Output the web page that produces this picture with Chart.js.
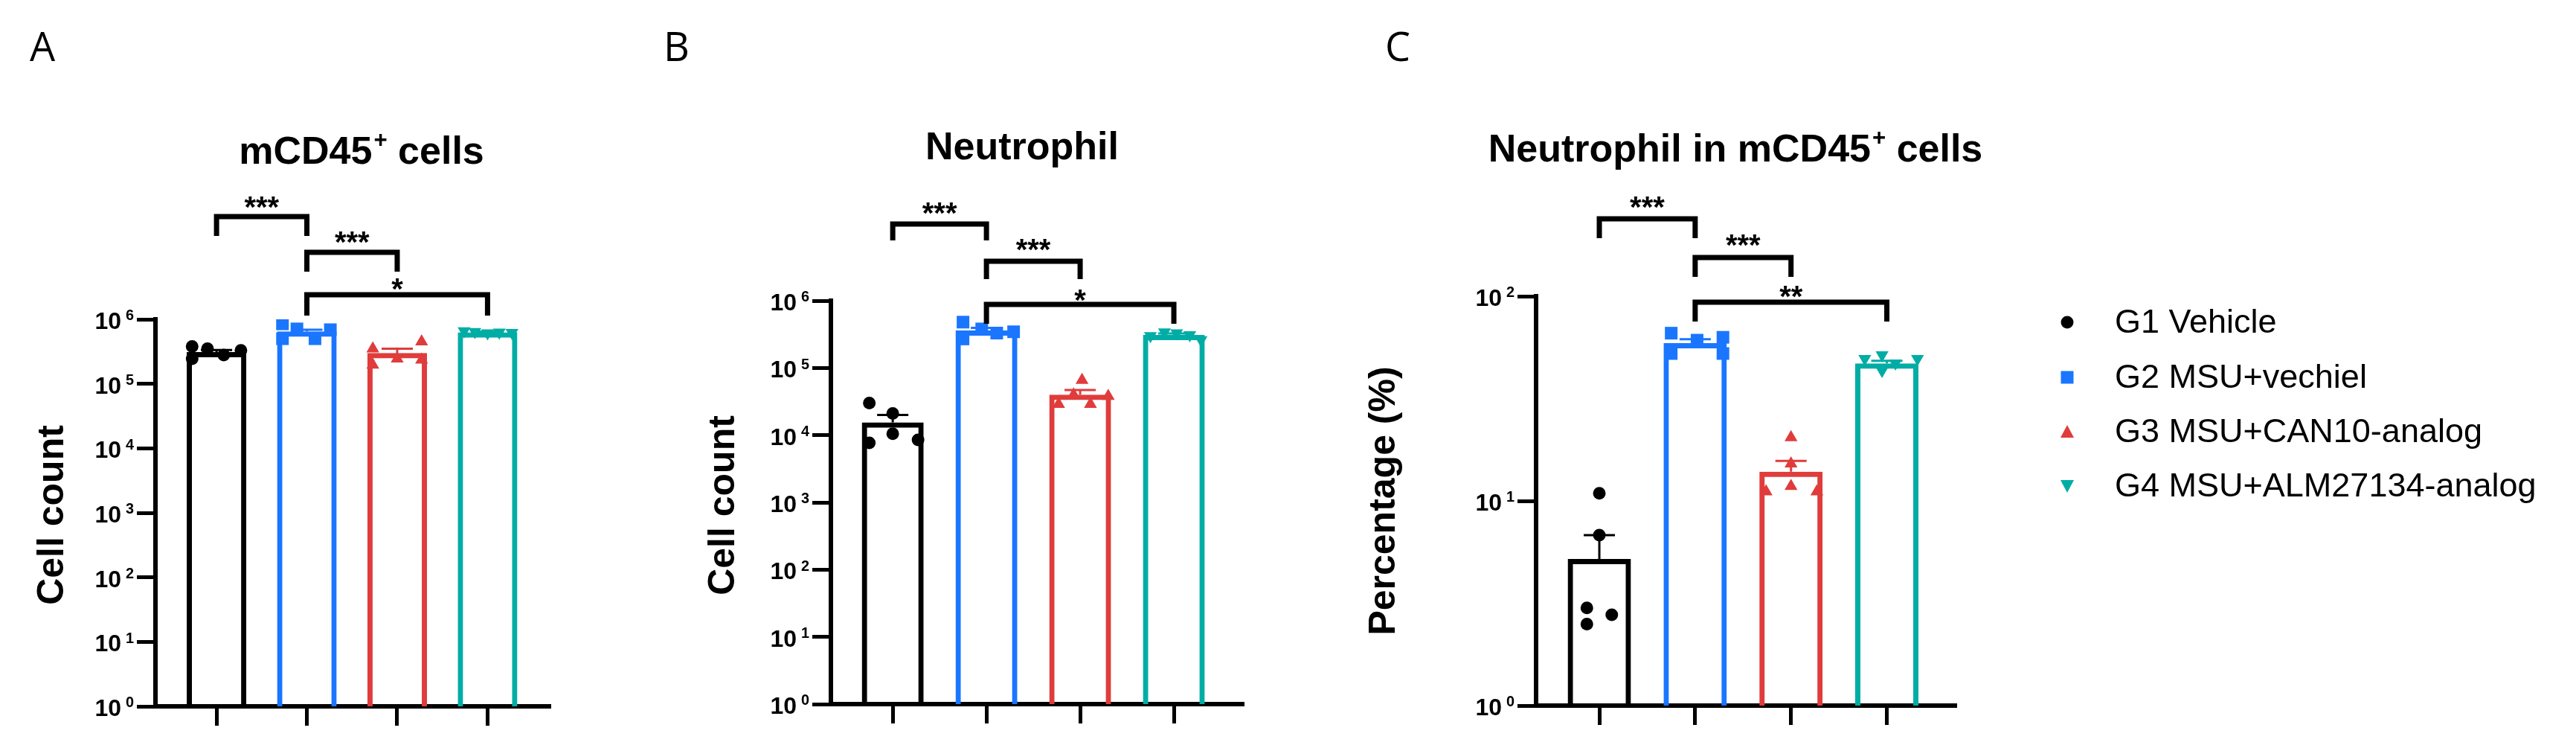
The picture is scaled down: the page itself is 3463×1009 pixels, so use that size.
<!DOCTYPE html>
<html>
<head>
<meta charset="utf-8">
<script src="https://cdn.jsdelivr.net/npm/chart.js@4.4.0/dist/chart.umd.min.js"></script>
<style>
  html, body { margin: 0; background: #fff; }
  #wrap { position: relative; width: 3463px; height: 1009px; }
  #wrap canvas { position: absolute; left: 0; top: 0; }
</style>
</head>
<body>
<div id="wrap">
  <canvas id="panelA" width="3463" height="1009"></canvas>
  <canvas id="panelB" width="3463" height="1009"></canvas>
  <canvas id="panelC" width="3463" height="1009"></canvas>
</div>
<script>
// groups, shared by all three panels
var groupLabels = ['G1 Vehicle', 'G2 MSU+vechiel', 'G3 MSU+CAN10-analog', 'G4 MSU+ALM27134-analog'];

// A - mCD45+ cells (cell count)
var cd45Mean = [3.1e5, 6.5e5, 3.0e5, 6.3e5];
var cd45Sem = [0.25e5, 0.4e5, 0.5e5, 0.15e5];
var cd45Points = [
  [3.8e5, 2.45e5, 3.5e5, 2.8e5, 3.3e5],
  [8.5e5, 5.0e5, 7.1e5, 5.0e5, 6.9e5],
  [3.5e5, 1.96e5, 2.45e5, 4.5e5, 2.35e5],
  [6.6e5, 6.4e5, 6.1e5, 6.3e5, 6.2e5]
];
var cd45Stars = ['***', '***', '*'];

// B - Neutrophil (cell count)
var neuMean = [1.55e4, 3.6e5, 4.0e4, 3.1e5];
var neuSem = [0.45e4, 0.35e5, 0.7e4, 0.15e5];
var neuPoints = [
  [3.0e4, 2.1e4, 7.7e3, 1.05e4, 8.5e3],
  [4.8e5, 2.7e5, 3.8e5, 3.3e5, 3.45e5],
  [2.9e4, 4.0e4, 6.6e4, 2.9e4, 3.8e4],
  [3.0e5, 3.4e5, 3.3e5, 3.1e5, 2.6e5]
];
var neuStars = ['***', '***', '*'];

// C - Neutrophil in mCD45+ cells (%)
var pctMean = [5.2, 59, 13.9, 47];
var pctSem = [1.6, 2.7, 1.8, 1.4];
var pctPoints = [
  [10.9, 6.8, 3.0, 2.78, 2.5],
  [66, 52.5, 61, 63, 52.5],
  [20.4, 15.2, 11.8, 11.1, 11.1],
  [49.5, 51.6, 47.1, 49.5, 43.3]
];
var pctStars = ['***', '***', '**'];

// pairs compared by the brackets
var comparisons = [[0, 1], [1, 2], [1, 3]];

// styling
var groupColors = ['#000000', '#1a76ff', '#e03c3c', '#00ada5'];
var markerStyles = ['circle', 'rect', 'triangle', 'triangle'];
var markerRadius = [8.5, 12, 10, 10];
var markerRotation = [0, 0, 0, 180];
var FONT = '"Liberation Sans", Arial, sans-serif';
var SUP = { '\u207A': '+', '\u2070': '0', '\u00B9': '1', '\u00B2': '2', '\u00B3': '3', '\u2074': '4', '\u2075': '5', '\u2076': '6' };
var supDigits = ['\u2070', '\u00B9', '\u00B2', '\u00B3', '\u2074', '\u2075', '\u2076'];

// horizontal spread of the dots in each column
var jitterA = [[-0.27, -0.27, -0.1, 0.08, 0.27], [-0.27, -0.27, -0.11, 0.09, 0.26], [-0.27, -0.27, 0, 0.27, 0.27], [-0.26, -0.14, 0, 0.13, 0.27]];
var jitterB = [[-0.25, 0, -0.25, 0, 0.27], [-0.25, -0.25, -0.05, 0.11, 0.29], [-0.23, -0.07, 0.02, 0.11, 0.3], [-0.25, -0.1, 0.03, 0.17, 0.29]];
var jitterC = [[0, 0, -0.13, 0.13, -0.13], [-0.25, -0.25, 0.02, 0.29, 0.29], [0, 0, 0, -0.26, 0.27], [-0.23, -0.05, 0.09, 0.32, -0.05]];

// text with superscript characters drawn smaller and raised
function drawRich(ctx, text, x, y, size, weight, align, supScale, supRise, supGap) {
  supScale = supScale || 0.6;
  supRise = supRise || 0.42;
  supGap = supGap || 2;
  var runs = [];
  for (var i = 0; i < text.length; i++) {
    var ch = text[i], sup = SUP[ch] !== undefined;
    var c = sup ? SUP[ch] : ch;
    if (runs.length && runs[runs.length - 1].sup === sup) runs[runs.length - 1].t += c;
    else runs.push({ t: c, sup: sup });
  }
  var total = 0;
  runs.forEach(function (r, k) {
    ctx.font = weight + ' ' + (r.sup ? size * supScale : size) + 'px ' + FONT;
    r.w = ctx.measureText(r.t).width + (!r.sup && k < runs.length - 1 ? supGap : 0);
    total += r.w;
  });
  var cx = align === 'right' ? x - total : x - total / 2;
  ctx.textAlign = 'left';
  ctx.textBaseline = 'alphabetic';
  runs.forEach(function (r) {
    ctx.font = weight + ' ' + (r.sup ? size * supScale : size) + 'px ' + FONT;
    ctx.fillText(r.t, cx, r.sup ? y - size * supRise : y);
    cx += r.w;
  });
}

function legendMarker(ctx, g, x, y) {
  ctx.fillStyle = groupColors[g];
  ctx.beginPath();
  if (g === 0) ctx.arc(x, y, 8.5, 0, Math.PI * 2);
  else if (g === 1) ctx.rect(x - 8.5, y - 8.5, 17, 17);
  else if (g === 2) { ctx.moveTo(x, y - 9); ctx.lineTo(x + 9, y + 8); ctx.lineTo(x - 9, y + 8); }
  else { ctx.moveTo(x, y + 9); ctx.lineTo(x + 9, y - 8); ctx.lineTo(x - 9, y - 8); }
  ctx.closePath();
  ctx.fill();
}

var panelDecor = {
  id: 'panelDecor',
  afterDatasetsDraw: function (chart, args, o) {
    var ctx = chart.ctx, xs = chart.scales.x, ys = chart.scales.y;
    // error bars (mean + SEM)
    o.means.forEach(function (m, g) {
      var px = xs.getPixelForValue(g);
      var y0 = ys.getPixelForValue(m), y1 = ys.getPixelForValue(m + o.sems[g]);
      ctx.save();
      ctx.strokeStyle = groupColors[g];
      ctx.lineWidth = 3;
      ctx.beginPath();
      ctx.moveTo(px, y0); ctx.lineTo(px, y1);
      ctx.moveTo(px - 21, y1); ctx.lineTo(px + 21, y1);
      ctx.stroke();
      ctx.restore();
    });
  },
  afterDraw: function (chart, args, o) {
    var ctx = chart.ctx, xs = chart.scales.x, ys = chart.scales.y;
    ctx.save();
    ctx.fillStyle = '#000';
    // y tick labels 10^n, taken from the scale's ticks
    ys.ticks.forEach(function (t) {
      var py = ys.getPixelForValue(t.value);
      var e = Math.round(Math.log10(t.value));
      drawRich(ctx, '10' + supDigits[e], ys.right - 29, py + 13, 32, 'bold', 'right', 0.62, 0.36, 6);
    });
    // panel letter
    ctx.font = '54px "Open Sans", sans-serif';
    ctx.textAlign = 'left';
    ctx.textBaseline = 'alphabetic';
    ctx.fillText(o.letter.t, o.letter.x, o.letter.y);
    // title
    drawRich(ctx, o.title.t, o.title.x, o.title.y, 52, 'bold', 'center');
    // y axis title
    ctx.save();
    ctx.translate(o.ytitle.x, o.ytitle.y);
    ctx.rotate(-Math.PI / 2);
    ctx.font = 'bold 50px ' + FONT;
    ctx.textAlign = 'center';
    ctx.textBaseline = 'middle';
    ctx.fillText(o.ytitle.t, 0, 0);
    ctx.restore();
    // significance brackets
    ctx.strokeStyle = '#000';
    ctx.lineWidth = 7;
    ctx.lineJoin = 'miter';
    comparisons.forEach(function (pair, k) {
      var b = o.brackets[k];
      var x1 = xs.getPixelForValue(pair[0]), x2 = xs.getPixelForValue(pair[1]);
      ctx.beginPath();
      ctx.moveTo(x1, b.y + b.leg);
      ctx.lineTo(x1, b.y);
      ctx.lineTo(x2, b.y);
      ctx.lineTo(x2, b.y + b.leg);
      ctx.stroke();
      ctx.font = 'bold 40px ' + FONT;
      ctx.textAlign = 'center';
      ctx.textBaseline = 'alphabetic';
      ctx.fillText(o.stars[k], (x1 + x2) / 2, b.star + 22);
    });
    // legend
    if (o.legend) {
      groupLabels.forEach(function (lab, g) {
        var ly = o.legend.rows[g];
        legendMarker(ctx, g, o.legend.x, ly);
        ctx.fillStyle = '#000';
        ctx.font = '45px ' + FONT;
        ctx.textAlign = 'left';
        ctx.textBaseline = 'middle';
        ctx.fillText(lab, o.legend.textX, ly + 2);
      });
    }
    ctx.restore();
  }
};

function makePanel(id, o) {
  var datasets = o.points.map(function (vals, g) {
    return {
      type: 'scatter',
      label: groupLabels[g],
      order: 1,
      data: vals.map(function (v, k) { return { x: g + o.jitter[g][k], y: v }; }),
      pointStyle: markerStyles[g],
      pointRadius: markerRadius[g],
      pointHoverRadius: markerRadius[g],
      pointRotation: markerRotation[g],
      pointBackgroundColor: groupColors[g],
      pointBorderColor: groupColors[g],
      pointBorderWidth: 0
    };
  });
  datasets.push({
    type: 'bar',
    order: 2,
    data: o.means.map(function (m, g) { return { x: g, y: m }; }),
    backgroundColor: 'rgba(255,255,255,0)',
    borderColor: groupColors,
    borderWidth: 7,
    borderSkipped: 'start',
    barPercentage: 0.66,
    categoryPercentage: 1
  });

  var axisGrid = function (len) {
    return { display: true, offset: false, drawOnChartArea: false, drawTicks: true, tickLength: len, tickWidth: 5, tickColor: '#000', color: '#000', lineWidth: 5 };
  };

  new Chart(document.getElementById(id), {
    type: 'bar',
    data: { datasets: datasets },
    options: {
      responsive: false,
      animation: false,
      devicePixelRatio: 1,
      layout: { padding: { left: o.area.left - 100, right: 3463 - o.area.right, top: o.area.top, bottom: 1009 - o.area.bottom - 40 } },
      plugins: {
        legend: { display: false },
        title: { display: false },
        tooltip: { enabled: false },
        panelDecor: o.decor
      },
      scales: {
        x: {
          type: 'linear',
          offset: false,
          min: o.area.xmin,
          max: o.area.xmax,
          afterBuildTicks: function (s) { s.ticks = [0, 1, 2, 3].map(function (v) { return { value: v }; }); },
          afterFit: function (s) { s.height = 40; },
          ticks: { display: false },
          grid: axisGrid(26),
          border: { display: true, color: '#000', width: 6 }
        },
        y: {
          type: 'logarithmic',
          min: 1,
          max: Math.pow(10, o.exps[o.exps.length - 1]),
          afterBuildTicks: function (s) { s.ticks = o.exps.map(function (e) { return { value: Math.pow(10, e) }; }); },
          afterFit: function (s) { s.width = 100; },
          ticks: { display: false },
          grid: axisGrid(25),
          border: { display: true, color: '#000', width: 6 }
        }
      }
    },
    plugins: [panelDecor]
  });
}

makePanel('panelA', {
  means: cd45Mean, points: cd45Points, jitter: jitterA, exps: [0, 1, 2, 3, 4, 5, 6],
  area: { left: 209, right: 738, top: 429, bottom: 949, xmin: -0.676, xmax: 3.68 },
  decor: {
    means: cd45Mean, sems: cd45Sem, stars: cd45Stars,
    letter: { t: 'A', x: 40, y: 82 },
    title: { t: 'mCD45\u207A cells', x: 486, y: 220 },
    ytitle: { t: 'Cell count', x: 71, y: 692 },
    brackets: [{ y: 291, leg: 26, star: 270 }, { y: 339, leg: 26, star: 317 }, { y: 396, leg: 28, star: 380 }]
  }
});

makePanel('panelB', {
  means: neuMean, points: neuPoints, jitter: jitterB, exps: [0, 1, 2, 3, 4, 5, 6],
  area: { left: 1117, right: 1670, top: 404, bottom: 946, xmin: -0.66, xmax: 3.73 },
  decor: {
    means: neuMean, sems: neuSem, stars: neuStars,
    letter: { t: 'B', x: 892, y: 82 },
    title: { t: 'Neutrophil', x: 1374, y: 214 },
    ytitle: { t: 'Cell count', x: 973, y: 679 },
    brackets: [{ y: 301, leg: 22, star: 278 }, { y: 351, leg: 24, star: 327 }, { y: 409, leg: 26, star: 395 }]
  }
});

makePanel('panelC', {
  means: pctMean, points: pctPoints, jitter: jitterC, exps: [0, 1, 2],
  area: { left: 2065, right: 2628, top: 398, bottom: 948, xmin: -0.66, xmax: 3.71 },
  decor: {
    means: pctMean, sems: pctSem, stars: pctStars,
    letter: { t: 'C', x: 1862, y: 82 },
    title: { t: 'Neutrophil in mCD45\u207A cells', x: 2333, y: 217 },
    ytitle: { t: 'Percentage (%)', x: 1861, y: 673 },
    brackets: [{ y: 294, leg: 26, star: 270 }, { y: 346, leg: 26, star: 321 }, { y: 406, leg: 26, star: 390 }],
    legend: { x: 2779, textX: 2843, rows: [433, 507, 580, 653] }
  }
});
</script>
</body>
</html>
